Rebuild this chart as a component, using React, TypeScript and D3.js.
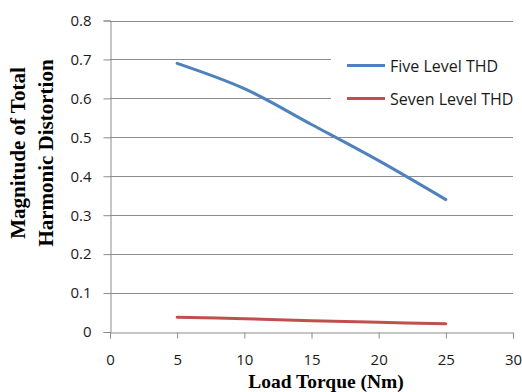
import React, { useRef, useEffect } from 'react';
import * as d3 from 'd3';

const torque = [5, 10, 15, 20, 25];
const fiveLevel = [0.69, 0.625, 0.533, 0.44, 0.34];
const sevenLevel = [0.038, 0.034, 0.029, 0.025, 0.021];
const seriesNames = ['Five Level THD', 'Seven Level THD'];
const seriesColors = ['#4F81BD', '#C0504D'];
const xTicks = [0, 5, 10, 15, 20, 25, 30];
const yTicks = [0, 0.1, 0.2, 0.3, 0.4, 0.5, 0.6, 0.7, 0.8];

function Chart() {
  const chartRef = useRef(null);

  useEffect(() => {
    const svg = d3.select(chartRef.current);
    svg.selectAll('*').remove();

    const left = 110;
    const right = 513;
    const top = 20.5;
    const bottom = 332;

    const xScale = d3.scaleLinear().domain([0, 30]).range([left, right]);
    const yScale = d3.scaleLinear().domain([0, 0.8]).range([bottom, top]);
    const tickFont = '"Open Sans", sans-serif';
    const titleFont = '"Liberation Serif", "Times New Roman", serif';

    // gridlines
    svg
      .append('g')
      .selectAll('line')
      .data(yTicks.filter((d) => d > 0))
      .enter()
      .append('line')
      .attr('x1', left)
      .attr('x2', right)
      .attr('y1', (d) => Math.round(yScale(d)) + 0.5)
      .attr('y2', (d) => Math.round(yScale(d)) + 0.5)
      .attr('stroke', '#8c8c8c')
      .attr('stroke-width', 1);

    // y axis
    const yAxis = d3
      .axisLeft(yScale)
      .tickValues(yTicks)
      .tickSize(7)
      .tickPadding(12)
      .tickFormat((d) => (d === 0 ? '0' : d3.format('.1f')(d)));
    const gy = svg.append('g').attr('transform', `translate(${left + 0.5},0)`).call(yAxis);
    gy.selectAll('line, path').attr('stroke', '#8c8c8c');
    gy.selectAll('text')
      .attr('font-family', tickFont)
      .attr('font-size', 15)
      .attr('fill', '#1a1a1a');

    // x axis
    const xAxis = d3.axisBottom(xScale).tickValues(xTicks).tickSize(6).tickPadding(16);
    const gx = svg
      .append('g')
      .attr('transform', `translate(0,${Math.round(bottom) + 0.5})`)
      .call(xAxis);
    gx.selectAll('line, path').attr('stroke', '#8c8c8c');
    gx.selectAll('text')
      .attr('font-family', tickFont)
      .attr('font-size', 15)
      .attr('fill', '#1a1a1a');

    // legend background covers gridlines
    svg
      .append('rect')
      .attr('x', 331)
      .attr('y', 44)
      .attr('width', 191)
      .attr('height', 74)
      .attr('fill', '#fff');

    // lines
    const series = [fiveLevel, sevenLevel];
    const line = d3
      .line<number>()
      .x((d, i) => xScale(torque[i]))
      .y((d) => yScale(d))
      .curve(d3.curveCatmullRom.alpha(0.5));
    series.forEach((values, i) => {
      svg
        .append('path')
        .attr('d', line(values))
        .attr('fill', 'none')
        .attr('stroke', seriesColors[i])
        .attr('stroke-width', 3)
        .attr('stroke-linecap', 'round');
    });

    // legend
    seriesNames.forEach((name, i) => {
      const y = 65.5 + i * 33;
      svg
        .append('line')
        .attr('x1', 347)
        .attr('x2', 385)
        .attr('y1', y)
        .attr('y2', y)
        .attr('stroke', seriesColors[i])
        .attr('stroke-width', 3);
      svg
        .append('text')
        .attr('x', 390)
        .attr('y', y + 6)
        .attr('font-family', tickFont)
        .attr('font-size', 16)
        .attr('fill', '#1a1a1a')
        .text(name);
    });

    // axis titles
    const yTitle = svg
      .append('text')
      .attr('transform', 'translate(25,153) rotate(-90)')
      .attr('text-anchor', 'middle')
      .attr('font-family', titleFont)
      .attr('font-weight', 'bold')
      .attr('font-size', 21)
      .attr('fill', '#000');
    yTitle.append('tspan').attr('x', 0).attr('dy', 0).text('Magnitude of Total');
    yTitle.append('tspan').attr('x', 0).attr('dy', 28).text('Harmonic Distortion');

    svg
      .append('text')
      .attr('x', 326)
      .attr('y', 387.5)
      .attr('text-anchor', 'middle')
      .attr('font-family', titleFont)
      .attr('font-weight', 'bold')
      .attr('font-size', 19.5)
      .attr('fill', '#000')
      .text('Load Torque (Nm)');
  }, []);

  return (
    <svg
      ref={chartRef}
      width={522}
      height={392}
      style={{ position: 'absolute', left: 0, top: 0, background: '#fff' }}
    ></svg>
  );
}

export default function App() {
  return <Chart />;
}
